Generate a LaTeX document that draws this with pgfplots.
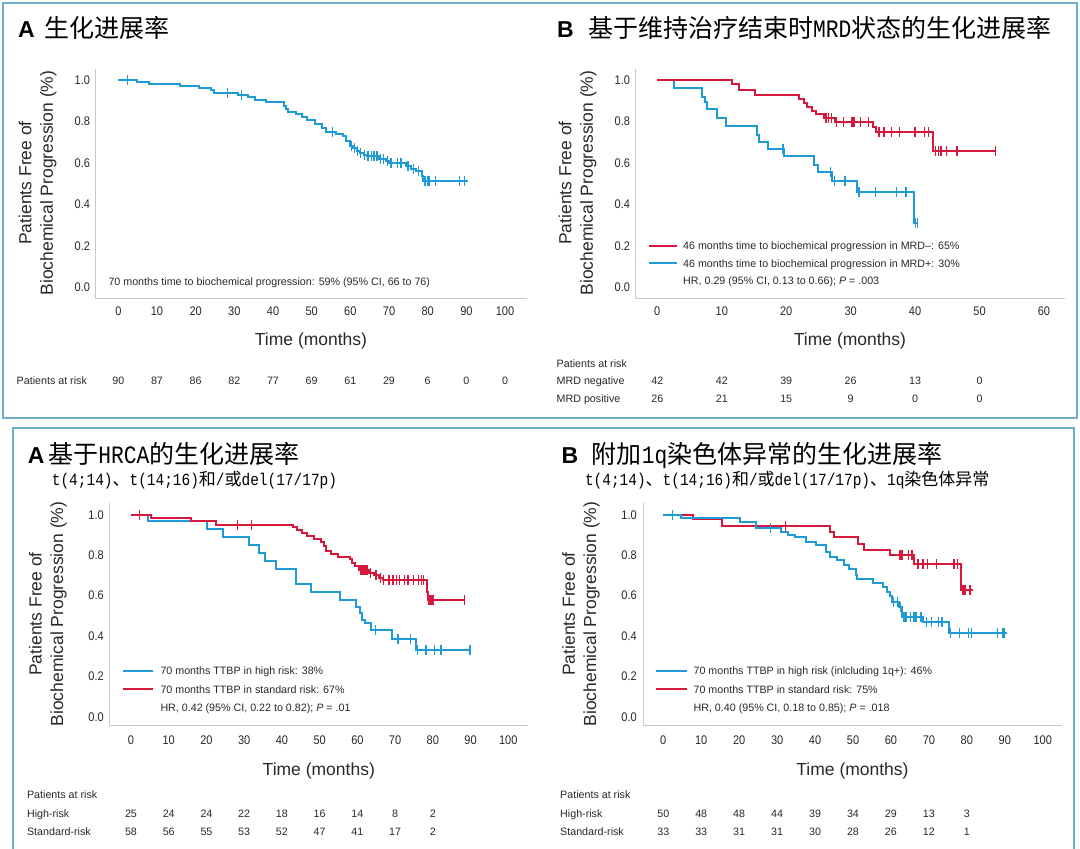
\documentclass[border=0pt]{standalone}
\usepackage{fontspec}
\usepackage{pgfplots}
\pgfplotsset{compat=1.18}
\setmainfont{Liberation Sans}
\newfontfamily\cjk{Noto Sans CJK SC}
\newfontfamily\mono[FakeStretch=0.85]{Liberation Mono}
\newfontfamily\cond[FakeStretch=0.88]{Liberation Sans}
\definecolor{kmblue}{RGB}{30,155,215}
\definecolor{kmred}{RGB}{214,24,60}
\definecolor{frame}{RGB}{110,175,205}
\definecolor{axgray}{RGB}{200,200,200}
\definecolor{txt}{RGB}{40,40,40}
\pgfplotsset{
 km/.style={scale only axis, anchor=south west, clip=false,
  axis x line*=bottom, axis y line*=left,
  axis line style={draw=axgray, line width=1pt, -},
  major tick length=0pt,
  ytick={0,0.2,0.4,0.6,0.8,1.0},
  xtick={0,10,...,100},
  ticklabel style={font=\cond\fontsize{12.5}{13}\selectfont, text=txt},
  /pgf/number format/assume math mode=true,
 },
 kml/.style={const plot, line width=2pt, mark=none},
 kmc/.style={only marks, mark=|, mark size=5pt, mark options={line width=1.4pt}},
}
\newcommand{\sm}{\fontsize{10.7}{12}\selectfont}
\begin{document}
\begin{tikzpicture}[x=1pt,y=1pt]
\useasboundingbox (0,0) rectangle (1080,849);
\draw[draw=frame, line width=2pt] (3,846) rectangle (1077,849-418);
\draw[draw=frame, line width=2pt] (13,-5) -- (13,849-428.5) -- (1073.5,849-428.5) -- (1073.5,-5);

% ---------------- Top A ----------------
\begin{axis}[km, at={(95pt,550pt)}, width=431.7pt, height=230pt,
  xmin=-6.03, xmax=105.6, ymin=-0.0565, ymax=1.0546,
  xticklabel style={yshift=-4pt},
  yticklabel style={xshift=-1.5pt,/pgf/number format/.cd,fixed,fixed zerofill,precision=1}]
\addplot[kml, kmblue] coordinates {(0,1.0)(4.8,0.99)(7.9,0.982)(15.9,0.974)(20.8,0.963)(23.9,0.952)(24.8,0.939)(31,0.928)(33.5,0.917)(35.4,0.907)(38.1,0.897)(42.9,0.878)(43.4,0.862)(43.8,0.846)(46,0.835)(47.4,0.823)(48.7,0.81)(50.9,0.79)(52.7,0.77)(53.6,0.752)(56.3,0.742)(58,0.73)(58.9,0.706)(59.8,0.682)(60.7,0.671)(61.6,0.658)(62.5,0.65)(63.4,0.64)(64.2,0.634)(67.3,0.621)(69.1,0.61)(70,0.599)(74.4,0.586)(75.8,0.573)(77.1,0.562)(78.4,0.538)(78.7,0.514)(90.4,0.514)};
\addplot[kmc, kmblue] coordinates {(2.4,1.0)(28.3,0.939)(31.9,0.928)(55.4,0.752)(60.3,0.682)(61,0.671)(61.9,0.658)(62.7,0.65)(63.7,0.64)(64.6,0.634)(65.4,0.634)(66.1,0.634)(66.9,0.634)(67.8,0.621)(68.5,0.621)(69.6,0.61)(70.5,0.599)(72.2,0.599)(73.1,0.599)(74.9,0.586)(76.4,0.573)(77.6,0.562)(79.1,0.514)(79.5,0.514)(79.9,0.514)(80.3,0.514)(82,0.514)(88.2,0.514)(89.5,0.514)};
\end{axis}

% ---------------- Top B ----------------
\begin{axis}[km, at={(635pt,550pt)}, width=430pt, height=230pt,
  xmin=-3.46, xmax=63.26, ymin=-0.0565, ymax=1.0546,
  xtick={0,10,...,60},
  xticklabel style={yshift=-4pt},
  yticklabel style={xshift=-1.5pt,/pgf/number format/.cd,fixed,fixed zerofill,precision=1}]
\addplot[kml, kmblue] coordinates {(0,1)(2.6,0.965)(6.9,0.92)(7.4,0.896)(7.7,0.859)(9.2,0.816)(10.7,0.779)(15.5,0.736)(15.8,0.704)(17.1,0.667)(19.6,0.635)(24.3,0.592)(25,0.555)(27.1,0.512)(31,0.459)(39.8,0.309)(40.4,0.309)};
\addplot[kmc, kmblue] coordinates {(19.5,0.667)(26.9,0.555)(27.5,0.512)(29.1,0.512)(31.2,0.459)(31.4,0.459)(33.9,0.459)(37.1,0.459)(38.6,0.459)(40.1,0.309)(40.4,0.309)};
\addplot[kml, kmred] coordinates {(0,1)(11.6,0.984)(12.7,0.955)(15.2,0.931)(22,0.912)(22.7,0.891)(23.2,0.872)(24,0.853)(24.6,0.835)(25.8,0.816)(27.5,0.8)(33.4,0.773)(33.9,0.752)(42.7,0.659)(52.5,0.659)};
\addplot[kmc, kmred] coordinates {(26.2,0.816)(26.6,0.816)(27,0.816)(27.8,0.8)(28.9,0.8)(30.2,0.8)(30.5,0.8)(31.5,0.8)(32.8,0.8)(34.4,0.752)(35.2,0.752)(36.3,0.752)(37.6,0.752)(40,0.752)(41.5,0.752)(42.1,0.752)(43.2,0.659)(43.6,0.659)(44,0.659)(44.9,0.659)(46.5,0.659)(52.5,0.659)};
\end{axis}

% ---------------- Bottom A ----------------
\begin{axis}[km, at={(109.3pt,123pt)}, width=419pt, height=223.3pt,
  xmin=-5.75, xmax=105.3, ymin=-0.046, ymax=1.061,
  xticklabel style={yshift=-6pt},
  yticklabel style={xshift=-2pt,/pgf/number format/.cd,fixed,fixed zerofill,precision=1}]
\addplot[kml, kmblue] coordinates {(0,1)(4.6,0.97)(20.1,0.929)(24.5,0.889)(31.2,0.85)(33.8,0.81)(35.4,0.77)(38.4,0.734)(43.7,0.658)(47.7,0.618)(55.3,0.579)(59.6,0.545)(60.7,0.512)(61.2,0.479)(61.9,0.463)(63.5,0.43)(69.2,0.383)(75.6,0.331)(89.8,0.331)};
\addplot[kmc, kmblue] coordinates {(64.8,0.43)(70.8,0.383)(74,0.383)(76,0.331)(78.2,0.331)(80.4,0.331)(82.2,0.331)(89.8,0.331)};
\addplot[kml, kmred] coordinates {(0,1)(5.3,0.983)(16,0.97)(22.4,0.952)(42.9,0.94)(44,0.926)(45.2,0.909)(46.6,0.896)(48.6,0.883)(50.4,0.868)(51.2,0.846)(51.8,0.823)(53,0.805)(54.8,0.793)(58,0.78)(58.6,0.762)(59.4,0.745)(60.3,0.727)(63,0.711)(64.4,0.702)(65.8,0.69)(66.7,0.678)(78.5,0.62)(78.8,0.579)(88.6,0.579)};
\addplot[kmc, kmred] coordinates {(2.3,1)(28.3,0.952)(32,0.952)(61,0.727)(61.5,0.727)(62,0.727)(62.5,0.727)(63.5,0.711)(64.9,0.702)(66.2,0.69)(67,0.678)(68.4,0.678)(69.4,0.678)(70.3,0.678)(71.2,0.678)(72.5,0.678)(73.4,0.678)(74.9,0.678)(76.2,0.678)(77,0.678)(77.6,0.678)(79,0.579)(79.5,0.579)(80,0.579)(88.4,0.579)};
\end{axis}

% ---------------- Bottom B ----------------
\begin{axis}[km, at={(643.3pt,123pt)}, width=418.4pt, height=223.3pt,
  xmin=-5.27, xmax=105.0, ymin=-0.046, ymax=1.061,
  xticklabel style={yshift=-6pt},
  yticklabel style={xshift=-3pt,/pgf/number format/.cd,fixed,fixed zerofill,precision=1}]
\addplot[kml, kmred] coordinates {(0,1)(7.9,0.98)(15.6,0.945)(43.9,0.917)(45,0.889)(51.3,0.856)(53,0.826)(59.8,0.802)(66.2,0.757)(78.4,0.628)(81.6,0.628)};
\addplot[kmc, kmred] coordinates {(32.2,0.945)(62.3,0.802)(62.6,0.802)(62.9,0.802)(64.6,0.802)(65.5,0.802)(67,0.757)(67.3,0.757)(68.4,0.757)(69.7,0.757)(72,0.757)(76.6,0.757)(77.5,0.757)(78.8,0.628)(79.2,0.628)(79.6,0.628)(80.8,0.628)};
\addplot[kml, kmblue] coordinates {(0,1)(4.7,0.983)(20.2,0.966)(24.5,0.935)(31.1,0.916)(32.9,0.9)(34.8,0.889)(37.5,0.868)(40.2,0.851)(42.9,0.818)(43.9,0.793)(45.7,0.777)(47.5,0.752)(48.9,0.731)(50.7,0.702)(51.1,0.681)(55.2,0.661)(58,0.645)(58.9,0.62)(59.8,0.598)(60.4,0.57)(62.1,0.545)(62.9,0.496)(68.4,0.471)(75.3,0.413)(90.7,0.413)};
\addplot[kmc, kmblue] coordinates {(2.5,1)(28.2,0.935)(60.7,0.57)(61.7,0.57)(62.5,0.545)(63.4,0.496)(64,0.496)(65.2,0.496)(66.1,0.496)(66.6,0.496)(67.9,0.496)(69.3,0.471)(70.7,0.471)(72.5,0.471)(73.4,0.471)(75.7,0.413)(78,0.413)(80.4,0.413)(81.2,0.413)(88,0.413)(89.4,0.413)(89.8,0.413)};
\end{axis}

% ---------------- titles ----------------
\begin{scope}[every node/.style={inner sep=0pt, anchor=base west}]
\node at (17.9,849-37.5) {\fontsize{23}{23}\selectfont\bfseries A};
\node at (44.8,849-37.5) {\cjk\fontsize{25}{25}\selectfont 生化进展率};
\node at (557,849-37.5) {\fontsize{23}{23}\selectfont\bfseries B};
\node at (588,849-37.5) {\cjk\fontsize{25}{25}\selectfont 基于维持治疗结束时{\mono MRD}状态的生化进展率};
\node at (27.6,849-464) {\fontsize{23}{23}\selectfont\bfseries A};
\node at (48.3,849-464) {\cjk\fontsize{25}{25}\selectfont 基于{\mono HRCA}的生化进展率};
\node at (51.7,849-485.5) {\cjk\fontsize{17}{17}\selectfont{\mono t(4;14)}、{\mono t(14;16)}和{\mono /}或{\mono del(17/17p)}};
\node at (561.4,849-464) {\fontsize{23}{23}\selectfont\bfseries B};
\node at (591.7,849-464) {\cjk\fontsize{25}{25}\selectfont 附加{\mono 1q}染色体异常的生化进展率};
\node at (584.8,849-485.5) {\cjk\fontsize{17}{17}\selectfont{\mono t(4;14)}、{\mono t(14;16)}和{\mono /}或{\mono del(17/17p)}、{\mono 1q}染色体异常};
\end{scope}

% ---------------- axis labels ----------------
\begin{scope}[every node/.style={inner sep=0pt, text=txt}]
\foreach \cx/\cy in {37.6/183, 577.6/183, 47.9/614, 581/614}
  \node[rotate=90, align=center, font=\fontsize{17.5}{21.4}\selectfont] at (\cx,849-\cy) {Patients Free of\\Biochemical Progression (\%)};
\foreach \cx/\cy in {311/340.7, 850/340.7, 318.8/770.7, 852.5/770.7}
  \node[font=\fontsize{17.5}{17.5}\selectfont] at (\cx,849-\cy) {Time (months)};
\end{scope}

% ---------------- legend samples ----------------
\draw[draw=kmred, line width=2pt] (648.6,849-245.7) -- (677.2,849-245.7);
\draw[draw=kmblue, line width=2pt] (648.6,849-263.3) -- (677.2,849-263.3);
\draw[draw=kmblue, line width=2pt] (123,849-670.7) -- (153.4,849-670.7);
\draw[draw=kmred, line width=2pt] (123,849-689.3) -- (153.4,849-689.3);
\draw[draw=kmblue, line width=2pt] (656.2,849-670.7) -- (686.5,849-670.7);
\draw[draw=kmred, line width=2pt] (656.2,849-689.3) -- (686.5,849-689.3);

% ---------------- annotations / legends ----------------
\begin{scope}[every node/.style={inner sep=0pt, anchor=base west, text=txt, font=\sm}]
\node at (108.3,849-285.5) {70 months time to biochemical progression: 59\% (95\% CI, 66 to 76)};
\node at (683,849-249.6) {46 months time to biochemical progression in MRD–: 65\%};
\node at (683,849-267.2) {46 months time to biochemical progression in MRD+: 30\%};
\node at (683,849-284.6) {HR, 0.29 (95\% CI, 0.13 to 0.66); \textit{P} = .003};
\node at (160.3,849-674.6) {70 months TTBP in high risk: 38\%};
\node at (160.3,849-693.2) {70 months TTBP in standard risk: 67\%};
\node at (160.3,849-711.2) {HR, 0.42 (95\% CI, 0.22 to 0.82); \textit{P} = .01};
\node at (693.4,849-674.6) {70 months TTBP in high risk (inlcluding 1q+): 46\%};
\node at (693.4,849-693.2) {70 months TTBP in standard risk: 75\%};
\node at (693.4,849-711.2) {HR, 0.40 (95\% CI, 0.18 to 0.85); \textit{P} = .018};
\node at (16.5,849-384.9) {Patients at risk};
\node at (556.5,849-367.2) {Patients at risk};
\node at (556.5,849-384.9) {MRD negative};
\node at (556.5,849-402.9) {MRD positive};
\node at (26.9,849-798.9) {Patients at risk};
\node at (26.9,849-817.2) {High-risk};
\node at (26.9,849-835.6) {Standard-risk};
\node at (560,849-798.9) {Patients at risk};
\node at (560,849-817.2) {High-risk};
\node at (560,849-835.6) {Standard-risk};
\end{scope}
\begin{scope}[every node/.style={inner sep=0pt, anchor=base, text=txt, font=\sm}]
\foreach \v [count=\i from 0] in {90,87,86,82,77,69,61,29,6,0,0}
  \node at (118.3+38.67*\i,849-384.9) {\v};
\foreach \v [count=\i from 0] in {42,42,39,26,13,0}
  \node at (657.3+64.45*\i,849-384.9) {\v};
\foreach \v [count=\i from 0] in {26,21,15,9,0,0}
  \node at (657.3+64.45*\i,849-402.9) {\v};
\foreach \v [count=\i from 0] in {25,24,24,22,18,16,14,8,2}
  \node at (131+37.73*\i,849-817.2) {\v};
\foreach \v [count=\i from 0] in {58,56,55,53,52,47,41,17,2}
  \node at (131+37.73*\i,849-835.6) {\v};
\foreach \v [count=\i from 0] in {50,48,48,44,39,34,29,13,3}
  \node at (663.3+37.93*\i,849-817.2) {\v};
\foreach \v [count=\i from 0] in {33,33,31,31,30,28,26,12,1}
  \node at (663.3+37.93*\i,849-835.6) {\v};
\end{scope}
\end{tikzpicture}
\end{document}
